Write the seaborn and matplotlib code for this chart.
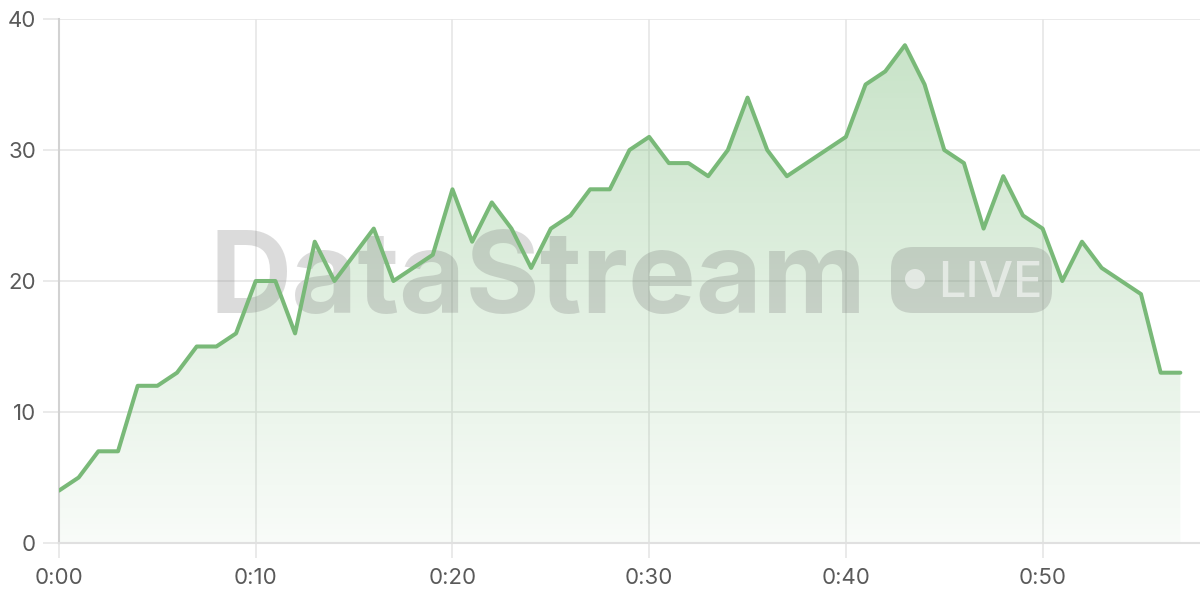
import numpy as np
import pandas as pd
import matplotlib
matplotlib.use("Agg")
import matplotlib.pyplot as plt
import seaborn as sns
from matplotlib.patches import FancyBboxPatch, Circle
from matplotlib.transforms import IdentityTransform

# Data: viewers per minute of the stream
minutes = list(range(58))
values = [4, 5, 7, 7, 12, 12, 13, 15, 15, 16,
          20, 20, 16, 23, 20, 22, 24, 20, 21, 22,
          27, 23, 26, 24, 21, 24, 25, 27, 27, 30,
          31, 29, 29, 28, 30, 34, 30, 28, 29, 30,
          31, 35, 36, 38, 35, 30, 29, 24, 28, 25,
          24, 20, 23, 21, 20, 19, 13, 13]
x_ticks = [0, 10, 20, 30, 40, 50]
x_labels = ["0:00", "0:10", "0:20", "0:30", "0:40", "0:50"]
y_ticks = [0, 10, 20, 30, 40]

df = pd.DataFrame({"minute": minutes, "value": values})

sns.set_theme(style="white")
plt.rcParams["font.family"] = ["Inter", "DejaVu Sans"]

line_color = "#79b978"
grid_color = "#e6e6e6"
text_color = "#5a5a5a"

fig = plt.figure(figsize=(12, 6), dpi=100)
ax = fig.add_axes([59 / 1200, 57 / 600, 1141 / 1200, 524 / 600])

# -------------------------------
# Gradient area under the line
# -------------------------------
fill = ax.fill_between(df["minute"], df["value"], 0, color="none", lw=0)
grad = np.linspace(0, 1, 256).reshape(-1, 1)
cmap = matplotlib.colors.LinearSegmentedColormap.from_list(
    "g", [(0.47, 0.73, 0.47, 0.05), (0.47, 0.73, 0.47, 0.42)])
img = ax.imshow(grad, extent=(0, 58, 0, 40), origin="lower", aspect="auto",
                cmap=cmap, zorder=1)
img.set_clip_path(fill.get_paths()[0], transform=ax.transData)

# Line
sns.lineplot(data=df, x="minute", y="value", ax=ax, color=line_color,
             linewidth=2.9, zorder=4)

ax.set_xlim(0, 58)
ax.set_ylim(0, 40)
ax.set_xticks(x_ticks)
ax.set_xticklabels(x_labels)
ax.set_yticks(y_ticks)
ax.set_xlabel("")
ax.set_ylabel("")

ax.grid(True, color=grid_color, linewidth=1.2)
ax.set_axisbelow(True)
for s in ["top", "right"]:
    ax.spines[s].set_visible(False)
ax.spines["left"].set_color("#d2d2d2")
ax.spines["left"].set_linewidth(1.5)
ax.spines["bottom"].set_color("#e0e0e0")
ax.spines["bottom"].set_linewidth(1.5)
ax.tick_params(axis="y", length=11.5, width=1.2, color=grid_color, pad=5,
               labelsize=16, labelcolor=text_color, left=True)
ax.tick_params(axis="x", length=11, width=1.2, color=grid_color, pad=7,
               labelsize=16, labelcolor=text_color, bottom=True)

# -------------------------------
# Watermark
# -------------------------------
wm = (0.45, 0.45, 0.45, 0.25)
ax.text(538, 287, "DataStream", transform=IdentityTransform(), ha="center",
        va="baseline", fontsize=82, fontweight="bold", color=wm, zorder=3)
box = FancyBboxPatch((891, 287), 161, 66, boxstyle="round,pad=0,rounding_size=22",
                     transform=IdentityTransform(), facecolor=wm, edgecolor="none",
                     zorder=3)
ax.add_patch(box)
ax.add_patch(Circle((915, 321), 10, transform=IdentityTransform(),
                    facecolor=(1, 1, 1, 0.55), edgecolor="none", zorder=3))
ax.text(938, 303, "LIVE", transform=IdentityTransform(), ha="left",
        va="baseline", fontsize=35, fontweight="medium",
        color=(1, 1, 1, 0.55), zorder=3)

fig.savefig("out.png", dpi=100)
